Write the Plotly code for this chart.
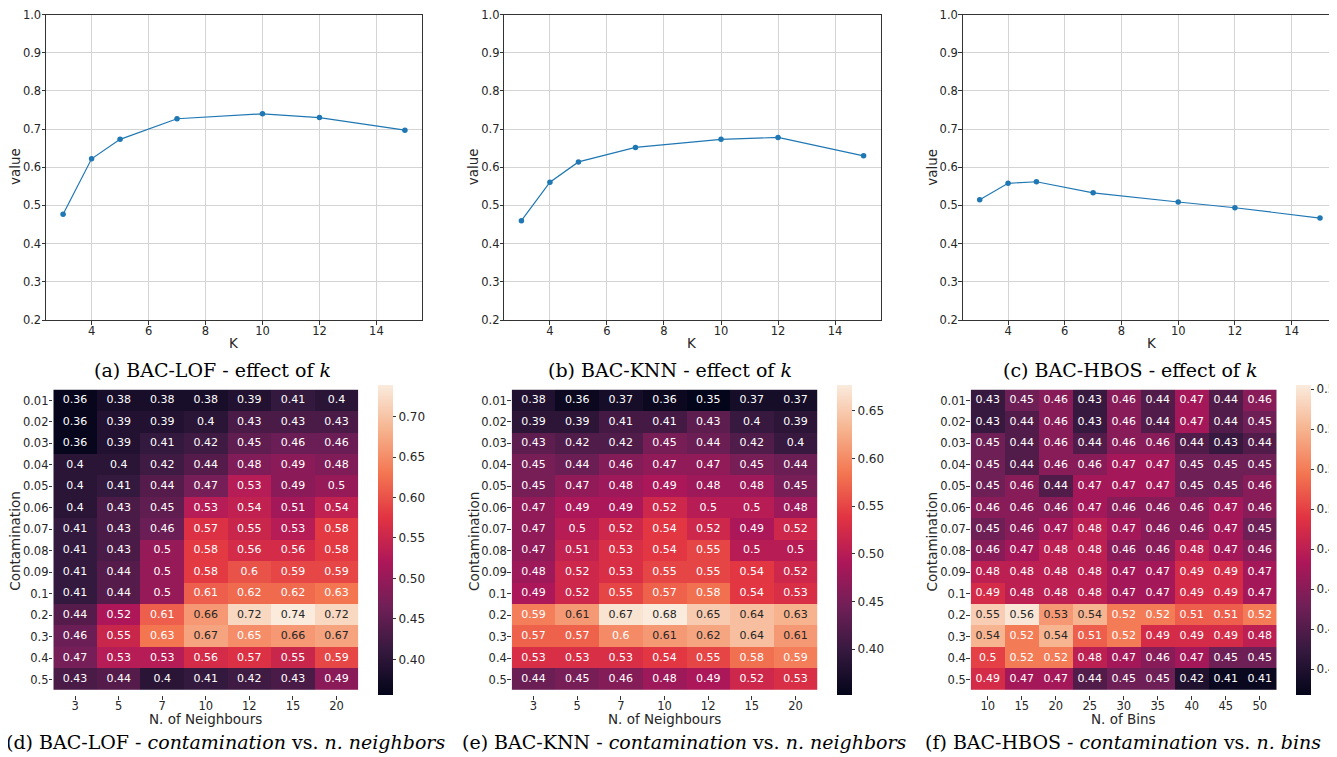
import plotly.graph_objects as go

# ---------------- data ----------------
k_values = [3, 4, 5, 7, 10, 12, 15]
lof_k = [0.477, 0.622, 0.673, 0.727, 0.740, 0.730, 0.697]
knn_k = [0.460, 0.561, 0.614, 0.652, 0.673, 0.678, 0.630]
hbos_k = [0.515, 0.558, 0.562, 0.533, 0.509, 0.494, 0.467]

contamination = ["0.01", "0.02", "0.03", "0.04", "0.05", "0.06", "0.07",
                 "0.08", "0.09", "0.1", "0.2", "0.3", "0.4", "0.5"]
neighbours = ["3", "5", "7", "10", "12", "15", "20"]
bins = ["10", "15", "20", "25", "30", "35", "40", "45", "50"]

lof_heat = [
    [0.36, 0.38, 0.38, 0.38, 0.39, 0.41, 0.40],
    [0.36, 0.39, 0.39, 0.40, 0.43, 0.43, 0.43],
    [0.36, 0.39, 0.41, 0.42, 0.45, 0.46, 0.46],
    [0.40, 0.40, 0.42, 0.44, 0.48, 0.49, 0.48],
    [0.40, 0.41, 0.44, 0.47, 0.53, 0.49, 0.50],
    [0.40, 0.43, 0.45, 0.53, 0.54, 0.51, 0.54],
    [0.41, 0.43, 0.46, 0.57, 0.55, 0.53, 0.58],
    [0.41, 0.43, 0.50, 0.58, 0.56, 0.56, 0.58],
    [0.41, 0.44, 0.50, 0.58, 0.60, 0.59, 0.59],
    [0.41, 0.44, 0.50, 0.61, 0.62, 0.62, 0.63],
    [0.44, 0.52, 0.61, 0.66, 0.72, 0.74, 0.72],
    [0.46, 0.55, 0.63, 0.67, 0.65, 0.66, 0.67],
    [0.47, 0.53, 0.53, 0.56, 0.57, 0.55, 0.59],
    [0.43, 0.44, 0.40, 0.41, 0.42, 0.43, 0.49],
]
knn_heat = [
    [0.38, 0.36, 0.37, 0.36, 0.35, 0.37, 0.37],
    [0.39, 0.39, 0.41, 0.41, 0.43, 0.40, 0.39],
    [0.43, 0.42, 0.42, 0.45, 0.44, 0.42, 0.40],
    [0.45, 0.44, 0.46, 0.47, 0.47, 0.45, 0.44],
    [0.45, 0.47, 0.48, 0.49, 0.48, 0.48, 0.45],
    [0.47, 0.49, 0.49, 0.52, 0.50, 0.50, 0.48],
    [0.47, 0.50, 0.52, 0.54, 0.52, 0.49, 0.52],
    [0.47, 0.51, 0.53, 0.54, 0.55, 0.50, 0.50],
    [0.48, 0.52, 0.53, 0.55, 0.55, 0.54, 0.52],
    [0.49, 0.52, 0.55, 0.57, 0.58, 0.54, 0.53],
    [0.59, 0.61, 0.67, 0.68, 0.65, 0.64, 0.63],
    [0.57, 0.57, 0.60, 0.61, 0.62, 0.64, 0.61],
    [0.53, 0.53, 0.53, 0.54, 0.55, 0.58, 0.59],
    [0.44, 0.45, 0.46, 0.48, 0.49, 0.52, 0.53],
]
hbos_heat = [
    [0.43, 0.45, 0.46, 0.43, 0.46, 0.44, 0.47, 0.44, 0.46],
    [0.43, 0.44, 0.46, 0.43, 0.46, 0.44, 0.47, 0.44, 0.45],
    [0.45, 0.44, 0.46, 0.44, 0.46, 0.46, 0.44, 0.43, 0.44],
    [0.45, 0.44, 0.46, 0.46, 0.47, 0.47, 0.45, 0.45, 0.45],
    [0.45, 0.46, 0.44, 0.47, 0.47, 0.47, 0.45, 0.45, 0.46],
    [0.46, 0.46, 0.46, 0.47, 0.46, 0.46, 0.46, 0.47, 0.46],
    [0.45, 0.46, 0.47, 0.48, 0.47, 0.46, 0.46, 0.47, 0.45],
    [0.46, 0.47, 0.48, 0.48, 0.46, 0.46, 0.48, 0.47, 0.46],
    [0.48, 0.48, 0.48, 0.48, 0.47, 0.47, 0.49, 0.49, 0.47],
    [0.49, 0.48, 0.48, 0.48, 0.47, 0.47, 0.49, 0.49, 0.47],
    [0.55, 0.56, 0.53, 0.54, 0.52, 0.52, 0.51, 0.51, 0.52],
    [0.54, 0.52, 0.54, 0.51, 0.52, 0.49, 0.49, 0.49, 0.48],
    [0.50, 0.52, 0.52, 0.48, 0.47, 0.46, 0.47, 0.45, 0.45],
    [0.49, 0.47, 0.47, 0.44, 0.45, 0.45, 0.42, 0.41, 0.41],
]

# colour scale ranges
lof_range = (0.356, 0.739)
knn_range = (0.352, 0.677)
hbos_range = (0.407, 0.562)

lof_cbticks = [0.40, 0.45, 0.50, 0.55, 0.60, 0.65, 0.70]
knn_cbticks = [0.40, 0.45, 0.50, 0.55, 0.60, 0.65]
hbos_cbticks = [0.42, 0.44, 0.46, 0.48, 0.50, 0.52, 0.54, 0.56]

line_xticks = [4, 6, 8, 10, 12, 14]
line_yticks = [0.2, 0.3, 0.4, 0.5, 0.6, 0.7, 0.8, 0.9, 1.0]

# ---------------- styling ----------------
OFF = 8  # the page body adds an 8 px margin around the figure
W, H = 1337 - OFF, 757 - OFF
ROCKET = [
    [0.0, "#03051a"], [0.1429, "#35193e"], [0.2857, "#701f57"],
    [0.4286, "#ad1759"], [0.5714, "#e13342"], [0.7143, "#f37651"],
    [0.8571, "#f6b48f"], [1.0, "#faebdd"],
]
SANS = "DejaVu Sans"
SERIF = "DejaVu Serif"
TXT = "#262626"


def fx(px):
    return (px - OFF) / W


def fy(py):
    return 1 - (py - OFF) / H


def px_x(a, b):
    return [max(fx(a), 0.0), min(fx(b), 1.0)]


def px_y(top, bottom):
    return [fy(bottom), fy(top)]


fig = go.Figure()
layout = dict(width=W, height=H, autosize=False,
              margin=dict(l=0, r=0, t=0, b=0, pad=0, autoexpand=False),
              paper_bgcolor="white", plot_bgcolor="white", showlegend=False,
              font=dict(family=SANS, color=TXT))
annotations = []


def label(text, x, y, size=13.5, angle=0, family=SANS, color=TXT):
    annotations.append(dict(text=text, x=fx(x), y=fy(y), xref="paper", yref="paper",
                            xanchor="center", yanchor="middle", showarrow=False,
                            textangle=angle, font=dict(family=family, size=size, color=color)))


# ---------- line charts ----------
line_specs = [
    (lof_k, (46, 422), 15, 234),
    (knn_k, (504.3, 880.7), 473.3, 692.3),
    (hbos_k, (962.7, 1338.7), 931.7, 1152.3),
]
for i, (vals, (xa, xb), ylab_x, xlab_x) in enumerate(line_specs, start=1):
    xn = "x" if i == 1 else f"x{i}"
    yn = "y" if i == 1 else f"y{i}"
    fig.add_trace(go.Scatter(x=k_values, y=vals, mode="lines+markers",
                             line=dict(color="#1f77b4", width=1.2),
                             marker=dict(color="#1f77b4", size=5.5),
                             xaxis=xn, yaxis=yn, hoverinfo="x+y"))
    ax = dict(domain=px_x(xa, xb), anchor=yn, range=[2.4, 15.6], automargin=False,
              tickvals=line_xticks, showgrid=True, gridcolor="#d4d4d4",
              gridwidth=1, zeroline=False, showline=True, linecolor="#333333",
              linewidth=1, mirror=True, ticks="outside", ticklen=3.5,
              tickcolor="#333333", ticklabelstandoff=-3, ticklabeloverflow="allow",
              tickfont=dict(size=11.5, family=SANS, color=TXT))
    ay = dict(domain=px_y(14.5, 320), anchor=xn, range=[0.2, 1.0], automargin=False,
              tickvals=line_yticks, tickformat=".1f", showgrid=True,
              gridcolor="#d4d4d4", gridwidth=1, zeroline=False, showline=True,
              linecolor="#333333", linewidth=1, mirror=True, ticks="outside",
              ticklen=3.5, tickcolor="#333333", ticklabelstandoff=-2,
              ticklabeloverflow="allow",
              tickfont=dict(size=11.5, family=SANS, color=TXT))
    layout["xaxis" if i == 1 else f"xaxis{i}"] = ax
    layout["yaxis" if i == 1 else f"yaxis{i}"] = ay
    label("value", ylab_x, 167, angle=-90)
    label("K", xlab_x, 343)

# ---------- heatmaps ----------
heat_specs = [
    (lof_heat, neighbours, lof_range, lof_cbticks, (53.3, 358.3), (378, 393), "N. of Neighbours", 15),
    (knn_heat, neighbours, knn_range, knn_cbticks, (511.7, 817.3), (836.7, 851.7), "N. of Neighbours", 473.3),
    (hbos_heat, bins, hbos_range, hbos_cbticks, (970.7, 1276.7), (1295.7, 1310.7), "N. of Bins", 931.7),
]
HT, HB = 385, 695
for j, (z, xcats, (zmin, zmax), cbt, (xa, xb), (ca, cb), xlabel, ylab_x) in enumerate(heat_specs, start=4):
    xn, yn = f"x{j}", f"y{j}"
    fig.add_trace(go.Heatmap(
        z=z, x=xcats, y=contamination, zmin=zmin, zmax=zmax,
        colorscale=ROCKET, xaxis=xn, yaxis=yn, xgap=0, ygap=0,
        colorbar=dict(x=fx(ca), xanchor="left", xref="container", yref="container",
                      xpad=0, ypad=0,
                      y=fy((HT + HB) / 2), yanchor="middle",
                      len=(HB - HT) / H, lenmode="fraction",
                      thickness=cb - ca, thicknessmode="pixels",
                      outlinewidth=0, ticks="outside", ticklen=3.5,
                      tickcolor="#333333", tickvals=cbt, tickformat=".2f",
                      ticklabeloverflow="allow",
                      tickfont=dict(size=12, family=SANS, color=TXT)),
        hovertemplate="%{x}, %{y}: %{z}<extra></extra>"))
    # cell annotations, colour chosen for contrast like seaborn
    for dark_text in (False, True):
        xs, ys, ts = [], [], []
        for r, row in enumerate(z):
            for c, v in enumerate(row):
                norm = (v - zmin) / (zmax - zmin)
                if (norm >= 0.78) == dark_text:
                    xs.append(xcats[c])
                    ys.append(contamination[r])
                    ts.append(format(v, ".2g"))
        fig.add_trace(go.Scatter(x=xs, y=ys, text=ts, mode="text",
                                 textfont=dict(size=11, family=SANS,
                                               color=TXT if dark_text else "white"),
                                 xaxis=xn, yaxis=yn, hoverinfo="skip"))
    layout[f"xaxis{j}"] = dict(domain=px_x(xa, xb), anchor=yn, type="category",
                               automargin=False,
                               showgrid=False, zeroline=False, showline=False,
                               ticks="outside", ticklen=3.5, tickcolor="#333333",
                               ticklabelstandoff=-3,
                               tickfont=dict(size=11.5, family=SANS, color=TXT))
    layout[f"yaxis{j}"] = dict(domain=px_y(HT, HB), anchor=xn, type="category",
                               automargin=False,
                               autorange="reversed", showgrid=False, zeroline=False,
                               showline=False, ticks="outside", ticklen=3.5,
                               tickcolor="#333333", ticklabelstandoff=-2,
                               tickfont=dict(size=11.5, family=SANS, color=TXT))
    label(xlabel, (xa + xb) / 2, 719)
    label("Contamination", ylab_x, 541.7, angle=-90)

# ---------- captions ----------
captions = [
    ("(a) BAC-LOF - effect of <i>k</i>", 212, 370),
    ("(b) BAC-KNN - effect of <i>k</i>", 670, 370),
    ("(c) BAC-HBOS - effect of <i>k</i>", 1130, 370),
    ("(d) BAC-LOF - <i>contamination</i> vs. <i>n. neighbors</i>", 225, 742),
    ("(e) BAC-KNN - <i>contamination</i> vs. <i>n. neighbors</i>", 684, 742),
    ("(f) BAC-HBOS - <i>contamination</i> vs. <i>n. bins</i>", 1123, 742),
]
for text, cx, cy in captions:
    label(text, cx, cy, size=19, family=SERIF, color="black")
layout["annotations"] = annotations

fig.update_layout(**layout)
fig.write_html("out.html")
